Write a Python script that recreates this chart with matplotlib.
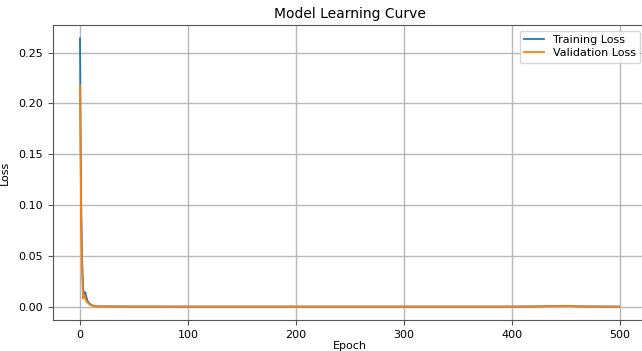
import matplotlib
matplotlib.use("Agg")
import matplotlib.pyplot as plt

epochs = [0, 1, 2, 3, 4, 5, 6, 7, 8, 9, 10, 11, 12, 13, 14, 15, 20, 30, 50,
          100, 200, 300, 400, 420, 440, 450, 460, 480, 499]
train_loss = [0.264, 0.110, 0.045, 0.018, 0.010, 0.014, 0.009, 0.006, 0.004, 0.003,
              0.002, 0.0015, 0.001, 0.0008, 0.0006, 0.0004, 0.0003, 0.0002, 0.0001,
              0.00005, 0.00005, 0.00005, 0.00005, 0.0002, 0.0006, 0.0008, 0.0003, 0.0001, 0.00005]
val_loss = [0.218, 0.095, 0.030, 0.008, 0.012, 0.008, 0.005, 0.004, 0.003, 0.002,
            0.0015, 0.001, 0.0008, 0.0006, 0.0004, 0.0003, 0.0002, 0.0001, 0.00008,
            0.00005, 0.00005, 0.00005, 0.00005, 0.0002, 0.0005, 0.0007, 0.0002, 0.0001, 0.00005]

fig = plt.figure(figsize=(6.42, 3.51), dpi=100)
W, H = 642, 351
ax = fig.add_axes([53 / W, (H - 320) / H, (646 - 53) / W, (320 - 25) / H])

ax.plot(epochs, train_loss, color="#1f77b4", lw=1.3, label="Training Loss")
ax.plot(epochs, val_loss, color="#ff7f0e", lw=1.3, label="Validation Loss")

ax.set_xticks([0, 100, 200, 300, 400, 500])
ax.set_yticks([0.00, 0.05, 0.10, 0.15, 0.20, 0.25])
ax.grid(True, color="#b8b8b8", lw=1.0)
ax.set_axisbelow(True)

ax.set_title("Model Learning Curve", fontsize=10, pad=5)
ax.set_xlabel("Epoch", fontsize=8, labelpad=1)
ax.set_ylabel("Loss", fontsize=8, labelpad=6)
ax.tick_params(labelsize=8, color="#555555")
for s in ax.spines.values():
    s.set_color("#555555")
ax.legend(loc="upper right", fontsize=8, handlelength=1.8, borderpad=0.4,
          labelspacing=0.3)

fig.savefig("out.png", dpi=100)
